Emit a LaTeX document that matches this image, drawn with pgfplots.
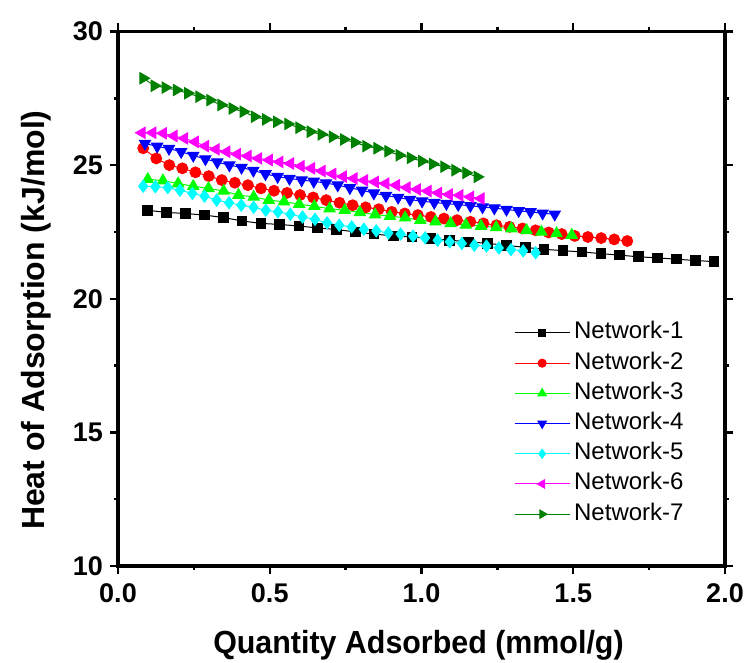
\documentclass[border=0pt]{standalone}
\usepackage{pgfplots}
\pgfplotsset{compat=1.18}
\usepackage{fontspec}
\setmainfont{Liberation Sans}

\definecolor{netA}{RGB}{0,0,0}
\definecolor{netB}{RGB}{255,0,0}
\definecolor{netC}{RGB}{0,255,0}
\definecolor{netD}{RGB}{0,0,255}
\definecolor{netE}{RGB}{0,255,255}
\definecolor{netF}{RGB}{255,0,255}
\definecolor{netG}{RGB}{0,128,0}

\begin{document}
\begin{tikzpicture}
\begin{axis}[
  scale only axis,
  width=303.5pt, height=267.25pt,
  xmin=0, xmax=2, ymin=10, ymax=30,
  xtick={0,0.5,1,1.5,2},
  ytick={10,15,20,25,30},
  minor x tick num=1, minor y tick num=1,
  tick align=outside,
  major tick length=4pt, minor tick length=2pt,
  tick style={black, line width=1.2pt},
  axis line style={line width=1.6pt},
  /pgf/number format/assume math mode=true,
  tick label style={font=\fontsize{13.5}{13.5}\selectfont\bfseries},
  xticklabel style={/pgf/number format/.cd, fixed, fixed zerofill, precision=1, /tikz/.cd, yshift=-1.5pt},
  xlabel={\scalebox{0.95}[1]{Quantity Adsorbed (mmol/g)}},
  ylabel={Heat of Adsorption (kJ/mol)},
  label style={font=\fontsize{16}{16}\selectfont\bfseries},
  xlabel style={at={(axis description cs:0.495,0)}, anchor=base, yshift=-43.6pt},
  ylabel style={at={([xshift=-36.5pt]axis description cs:0,0.46)}, anchor=base, rotate=0},
  legend style={draw=none, fill=none, at={(0.652,0.465)}, anchor=north west,
    inner sep=0pt, row sep=0pt,
    nodes={font=\fontsize{12}{12}\selectfont, inner xsep=2pt, inner ysep=1.55pt,
           text height=9pt, text depth=3pt}},
  legend cell align=left,
  legend image code/.code={\draw[mark repeat=2,mark phase=2,every mark/.append style={scale=0.75},#1] plot coordinates {(0pt,0pt) (13.75pt,0pt) (27.5pt,0pt)};},
  every axis plot/.append style={line width=0.5pt},
]

\addplot[color=netA, mark=square*, mark size=2.4pt, mark options={solid, fill=netA}] coordinates {
(0.098,23.31) (0.160,23.23) (0.222,23.19) (0.285,23.13) (0.347,23.04) (0.409,22.91)
(0.471,22.82) (0.533,22.78) (0.596,22.72) (0.658,22.65) (0.720,22.59) (0.782,22.50)
(0.844,22.42) (0.907,22.35) (0.969,22.31) (1.031,22.25) (1.093,22.19) (1.155,22.13)
(1.218,22.07) (1.280,22.00) (1.342,21.92) (1.404,21.85) (1.466,21.80) (1.529,21.75)
(1.591,21.69) (1.653,21.63) (1.715,21.57) (1.777,21.53) (1.840,21.48) (1.902,21.43)
(1.964,21.39)
};
\addlegendentry{Network-1}

\addplot[color=netB, mark=*, mark size=2.7pt, mark options={solid, fill=netB}] coordinates {
(0.083,25.63) (0.126,25.25) (0.169,25.00) (0.212,24.88) (0.255,24.73) (0.299,24.59)
(0.342,24.44) (0.385,24.34) (0.428,24.25) (0.471,24.13) (0.514,24.04) (0.557,23.96)
(0.600,23.88) (0.643,23.79) (0.686,23.69) (0.730,23.59) (0.773,23.50) (0.816,23.42)
(0.859,23.35) (0.902,23.25) (0.945,23.19) (0.988,23.13) (1.031,23.06) (1.074,23.00)
(1.117,22.94) (1.161,22.88) (1.204,22.82) (1.247,22.75) (1.290,22.69) (1.333,22.63)
(1.376,22.56) (1.419,22.48) (1.462,22.42) (1.505,22.35) (1.548,22.31) (1.592,22.27)
(1.635,22.22) (1.678,22.16)
};
\addlegendentry{Network-2}

\addplot[color=netC, mark=triangle*, mark size=3.2pt, mark options={solid, fill=netC}] coordinates {
(0.098,24.47) (0.148,24.42) (0.198,24.31) (0.248,24.21) (0.298,24.13) (0.348,24.03)
(0.397,23.88) (0.447,23.81) (0.497,23.69) (0.547,23.63) (0.597,23.54) (0.647,23.46)
(0.697,23.37) (0.747,23.31) (0.797,23.23) (0.847,23.15) (0.896,23.09) (0.946,23.03)
(0.996,22.94) (1.046,22.88) (1.096,22.82) (1.146,22.76) (1.196,22.72) (1.246,22.67)
(1.296,22.62) (1.346,22.56) (1.395,22.50) (1.445,22.44) (1.495,22.38)
};
\addlegendentry{Network-3}

\addplot[color=netD, mark=triangle*, mark size=3.2pt, mark options={solid, fill=netD, rotate=180}] coordinates {
(0.089,25.81) (0.129,25.70) (0.168,25.62) (0.208,25.50) (0.248,25.36) (0.288,25.23)
(0.327,25.11) (0.367,25.00) (0.407,24.91) (0.446,24.80) (0.486,24.67) (0.526,24.57)
(0.565,24.50) (0.605,24.44) (0.645,24.39) (0.685,24.33) (0.724,24.25) (0.764,24.15)
(0.804,24.06) (0.843,23.95) (0.883,23.86) (0.923,23.79) (0.962,23.71) (1.002,23.65)
(1.042,23.60) (1.082,23.56) (1.121,23.52) (1.161,23.48) (1.201,23.43) (1.240,23.39)
(1.280,23.34) (1.320,23.29) (1.359,23.25) (1.399,23.20) (1.439,23.16)
};
\addlegendentry{Network-4}

\addplot[color=netE, mark=diamond*, mark size=3.0pt, mark options={solid, fill=netE}] coordinates {
(0.083,24.21) (0.123,24.19) (0.164,24.16) (0.204,24.06) (0.245,23.94) (0.285,23.84)
(0.325,23.69) (0.366,23.59) (0.406,23.50) (0.447,23.42) (0.487,23.31) (0.527,23.25)
(0.568,23.16) (0.608,23.06) (0.649,22.97) (0.689,22.84) (0.729,22.75) (0.770,22.69)
(0.810,22.60) (0.851,22.54) (0.891,22.46) (0.931,22.42) (0.972,22.34) (1.012,22.28)
(1.053,22.19) (1.093,22.13) (1.133,22.07) (1.174,22.00) (1.214,21.97) (1.255,21.90)
(1.295,21.84) (1.335,21.79) (1.376,21.72)
};
\addlegendentry{Network-5}

\addplot[color=netF, mark=triangle*, mark size=3.2pt, mark options={solid, fill=netF, rotate=90}] coordinates {
(0.079,26.21) (0.114,26.21) (0.149,26.19) (0.184,26.09) (0.219,26.00) (0.254,25.87)
(0.288,25.71) (0.323,25.59) (0.358,25.50) (0.393,25.41) (0.428,25.34) (0.463,25.25)
(0.498,25.19) (0.533,25.12) (0.568,25.06) (0.603,24.96) (0.637,24.88) (0.672,24.78)
(0.707,24.67) (0.742,24.57) (0.777,24.50) (0.812,24.43) (0.847,24.37) (0.882,24.31)
(0.917,24.25) (0.952,24.16) (0.986,24.09) (1.021,24.03) (1.056,23.96) (1.091,23.90)
(1.126,23.87) (1.161,23.81) (1.196,23.75)
};
\addlegendentry{Network-6}

\addplot[color=netG, mark=triangle*, mark size=3.2pt, mark options={solid, fill=netG, rotate=-90}] coordinates {
(0.083,28.25) (0.120,27.97) (0.156,27.90) (0.193,27.81) (0.230,27.69) (0.267,27.56)
(0.303,27.43) (0.340,27.25) (0.377,27.12) (0.413,27.00) (0.450,26.81) (0.487,26.71)
(0.523,26.62) (0.560,26.54) (0.597,26.40) (0.634,26.25) (0.670,26.15) (0.707,26.06)
(0.744,25.96) (0.780,25.85) (0.817,25.71) (0.854,25.63) (0.890,25.52) (0.927,25.37)
(0.964,25.27) (1.001,25.15) (1.037,25.04) (1.074,24.94) (1.111,24.81) (1.147,24.71)
(1.184,24.56)
};
\addlegendentry{Network-7}

\end{axis}
\pgfresetboundingbox
\path (-59pt,-48pt) rectangle (314.5pt,283pt);
\end{tikzpicture}
\end{document}
